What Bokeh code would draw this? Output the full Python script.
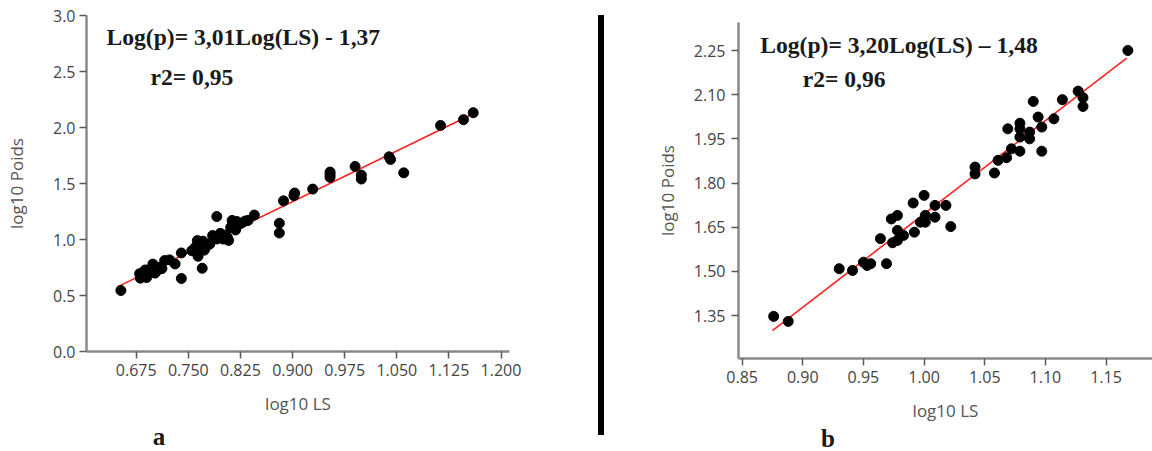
from bokeh.plotting import figure
from bokeh.layouts import row, column
from bokeh.models import FixedTicker, Range1d, Label, PrintfTickFormatter, Div, Spacer
from bokeh.embed import file_html
from bokeh.resources import INLINE

# ---------------- data: panel a ----------------
a_ls = [0.653, 0.680, 0.681, 0.684, 0.688, 0.690, 0.693, 0.697, 0.699, 0.702,
        0.705, 0.709, 0.712, 0.716, 0.723, 0.731, 0.740, 0.740, 0.755, 0.760,
        0.763, 0.764, 0.767, 0.770, 0.771, 0.773, 0.777, 0.781, 0.785, 0.791,
        0.791, 0.796, 0.800, 0.803, 0.806, 0.808, 0.811, 0.813, 0.818, 0.820,
        0.823, 0.827, 0.832, 0.836, 0.845, 0.881, 0.881, 0.887, 0.902, 0.903,
        0.929, 0.954, 0.954, 0.954, 0.990, 0.999, 0.999, 1.039, 1.041, 1.060,
        1.113, 1.146, 1.160]
a_poids = [0.545, 0.695, 0.655, 0.700, 0.728, 0.660, 0.707, 0.745, 0.780, 0.700,
           0.722, 0.752, 0.740, 0.812, 0.818, 0.782, 0.880, 0.652, 0.900, 0.930,
           0.990, 0.850, 0.955, 0.743, 0.985, 0.905, 0.945, 0.960, 1.035, 1.205,
           1.005, 1.055, 1.004, 1.040, 1.020, 0.992, 1.108, 1.170, 1.085, 1.160,
           1.135, 1.148, 1.165, 1.170, 1.218, 1.145, 1.058, 1.345, 1.392, 1.415,
           1.450, 1.555, 1.580, 1.602, 1.652, 1.575, 1.540, 1.738, 1.715, 1.595,
           2.018, 2.070, 2.132]
a_fit_slope, a_fit_intercept = 3.02, -1.38
a_fit_ls = [0.648, 1.160]
a_xticks = [0.675, 0.750, 0.825, 0.900, 0.975, 1.050, 1.125, 1.200]
a_yticks = [0.0, 0.5, 1.0, 1.5, 2.0, 2.5, 3.0]
a_equation = "Log(p)= 3,01Log(LS) - 1,37"
a_r2 = "r2= 0,95"
a_panel = "a"

# ---------------- data: panel b ----------------
b_ls = [0.876, 0.888, 0.930, 0.941, 0.950, 0.953, 0.956, 0.964, 0.969, 0.973,
        0.974, 0.978, 0.978, 0.978, 0.983, 0.991, 0.992, 1.000, 0.997, 1.001,
        1.001, 1.009, 1.009, 1.018, 1.022, 1.042, 1.042, 1.058, 1.061, 1.068,
        1.069, 1.072, 1.079, 1.079, 1.079, 1.079, 1.087, 1.087, 1.090, 1.094,
        1.097, 1.097, 1.107, 1.114, 1.127, 1.131, 1.131, 1.168]
b_poids = [1.347, 1.330, 1.509, 1.503, 1.531, 1.520, 1.526, 1.611, 1.526, 1.678,
           1.597, 1.690, 1.639, 1.605, 1.622, 1.732, 1.633, 1.758, 1.667, 1.690,
           1.667, 1.724, 1.684, 1.724, 1.652, 1.854, 1.831, 1.834, 1.877, 1.886,
           1.984, 1.916, 2.003, 1.984, 1.956, 1.908, 1.973, 1.950, 2.077, 2.024,
           1.990, 1.908, 2.018, 2.083, 2.112, 2.090, 2.060, 2.250]
b_fit_slope, b_fit_intercept = 3.17, -1.475
b_fit_ls = [0.875, 1.167]
b_xticks = [0.85, 0.90, 0.95, 1.00, 1.05, 1.10, 1.15]
b_yticks = [1.35, 1.50, 1.65, 1.80, 1.95, 2.10, 2.25]
b_equation = "Log(p)= 3,20Log(LS) \u2013 1,48"
b_r2 = "r2= 0,96"
b_panel = "b"

x_title = "log10 LS"
y_title = "log10 Poids"

H_TOTAL = 446
H_PLOT = 420
TOP, BOTTOM = 15, 69
B_OFFSET = 7           # panel b sits slightly lower than panel a
W_A, W_B = 597, 547
TICK_FONT = "Open Sans"
SERIF = "Liberation Serif"


def style_axes(p, xfmt, yfmt, xticks, yticks, x_ls, x_als, y_ls, y_als):
    p.grid.visible = False
    p.outline_line_color = None
    p.background_fill_color = "white"
    p.border_fill_color = "white"
    p.xaxis.ticker = FixedTicker(ticks=xticks)
    p.yaxis.ticker = FixedTicker(ticks=yticks)
    p.xaxis.formatter = PrintfTickFormatter(format=xfmt)
    p.yaxis.formatter = PrintfTickFormatter(format=yfmt)
    for ax in (p.xaxis, p.yaxis):
        ax.axis_line_color = "#8a8a8a"
        ax.axis_line_width = 2.5
        ax.major_tick_line_color = "#5a5a5a"
        ax.major_tick_line_width = 1.5
        ax.major_tick_out = 7
        ax.major_tick_in = 0
        ax.minor_tick_line_color = None
        ax.major_label_text_font = TICK_FONT
        ax.major_label_text_font_size = "16px"
        ax.major_label_text_color = "#444444"
        ax.axis_label_text_font = TICK_FONT
        ax.axis_label_text_font_size = "17px"
        ax.axis_label_text_font_style = "normal"
        ax.axis_label_text_color = "#555555"
    p.xaxis.major_label_standoff = x_ls
    p.xaxis.axis_label_standoff = x_als
    p.yaxis.major_label_standoff = y_ls
    p.yaxis.axis_label_standoff = y_als
    p.xaxis.axis_label = x_title
    p.yaxis.axis_label = y_title


def add_text(p, x, y, text, size="23.6px"):
    p.add_layout(Label(x=x, y=y, text=text, text_font=SERIF,
                       text_font_style="bold", text_font_size=size,
                       text_color="#1a1a1a", text_baseline="alphabetic"))


def letter_div(letter, height, line_height, left):
    return Div(text=letter, width=30, height=height, margin=(0, 0, 0, left),
               styles={"font-family": SERIF, "font-weight": "bold",
                       "font-size": "25px", "line-height": f"{line_height}px",
                       "color": "#1a1a1a", "text-align": "center",
                       "overflow": "visible"})


# ---------------- panel a ----------------
pa = figure(width=W_A, height=H_PLOT, x_range=Range1d(0.6035, 1.2122),
            y_range=Range1d(0.0, 3.0), toolbar_location=None,
            output_backend="svg", min_border_left=86, min_border_right=88,
            min_border_top=TOP, min_border_bottom=BOTTOM)
style_axes(pa, "%.3f", "%.1f", a_xticks, a_yticks, 5, 13, 4, 22)
pa.line(a_fit_ls, [a_fit_slope * v + a_fit_intercept for v in a_fit_ls],
        line_color="#ff2020", line_width=1.6)
pa.scatter(a_ls, a_poids, size=10, color="black")
add_text(pa, 0.6323, 2.812, a_equation)
add_text(pa, 0.6956, 2.449, a_r2)
qa = letter_div(a_panel, H_TOTAL - H_PLOT, 33, 144)

# ---------------- separator ----------------
sep = Div(text="", width=6, height=420, margin=(15, 1, 0, 1),
          styles={"background-color": "black"})

# ---------------- panel b ----------------
pb = figure(width=W_B, height=H_PLOT, x_range=Range1d(0.847, 1.1883),
            y_range=Range1d(1.204, 2.3451), toolbar_location=None,
            output_backend="svg", min_border_left=133, min_border_right=0,
            min_border_top=TOP, min_border_bottom=BOTTOM)
style_axes(pb, "%.2f", "%.2f", b_xticks, b_yticks, 5, 13, 6, 12)
pb.line(b_fit_ls, [b_fit_slope * v + b_fit_intercept for v in b_fit_ls],
        line_color="#ff2020", line_width=1.6)
pb.scatter(b_ls, b_poids, size=10, color="black")
add_text(pb, 0.8649, 2.267, b_equation)
add_text(pb, 0.8999, 2.154, b_r2)
qb = letter_div(b_panel, H_TOTAL - H_PLOT - B_OFFSET, 24, 208)

layout = row(column(pa, qa), sep,
             column(Spacer(width=W_B, height=B_OFFSET), pb, qb))
open("out.html", "w").write(file_html(layout, INLINE))
